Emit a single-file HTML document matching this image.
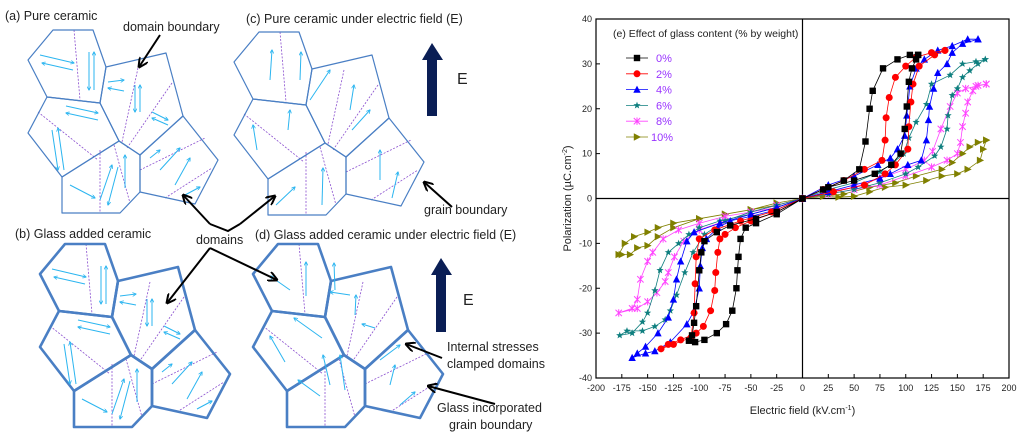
<!DOCTYPE html>
<html><head><meta charset="utf-8"><style>
body{margin:0;background:#fff;width:1024px;height:434px;overflow:hidden;font-family:"Liberation Sans",sans-serif}
svg{position:absolute;left:0;top:0}
</style></head><body>
<svg id="s" width="1024" height="434" viewBox="0 0 1024 434">
<defs>
<marker id="ah" viewBox="0 0 10 10" refX="9" refY="5" markerWidth="4" markerHeight="4" orient="auto-start-reverse"><path d="M0,0 L10,5 L0,10" fill="none" stroke="#2bb5f0" stroke-width="2"/></marker>
<marker id="bh" viewBox="0 0 10 10" refX="9" refY="5" markerWidth="5" markerHeight="5" orient="auto"><path d="M0,0 L10,5 L0,10" fill="none" stroke="#000" stroke-width="2"/></marker>
</defs>
<g id="diag"></g>
<g font-size="12.5" fill="#222">
<text x="5" y="20">(a) Pure ceramic</text>
<text x="123" y="31">domain boundary</text>
<text x="246" y="23">(c) Pure ceramic under electric field (E)</text>
<text x="424" y="214">grain boundary</text>
<text x="15" y="238">(b) Glass added ceramic</text>
<text x="196" y="244">domains</text>
<text x="255" y="239">(d) Glass added ceramic under electric field (E)</text>
<text x="447" y="351">Internal stresses</text>
<text x="447" y="368">clamped domains</text>
<text x="437" y="412">Glass incorporated</text>
<text x="449" y="429">grain boundary</text>
<text x="457" y="84" font-size="16">E</text>
<text x="463" y="305" font-size="16">E</text>
</g>
<g stroke="#000" stroke-width="2" fill="none" marker-end="url(#bh)">
<line x1="160" y1="35" x2="139" y2="67"/>
<line x1="210" y1="224" x2="183" y2="195"/>
<line x1="240" y1="224" x2="275" y2="196"/>
<line x1="452" y1="207" x2="424" y2="182"/>
<line x1="210" y1="248" x2="167" y2="303"/>
<line x1="210" y1="248" x2="277" y2="280"/>
<line x1="442" y1="358" x2="406" y2="344"/>
<line x1="495" y1="404" x2="428" y2="386"/>
</g>
<path d="M210,224 L228,231 L240,224" stroke="#000" stroke-width="2" fill="none"/>
<g fill="#0a1e55">
<polygon points="422,60 432,43 443,60 437,60 437,116 427,116 427,60"/>
<polygon points="431,275 441,258 452,275 446,275 446,332 436,332 436,275"/>
</g>
<g id="chart"></g>
</svg>
<script>
// ---------- chart data ----------
var seriesNames=["0%","2%","4%","6%","8%","10%"];
var colors=["#000000","#ff0000","#0000ff","#0f7f7f","#ff44ff","#808000"];
var xTicks=[-200,-175,-150,-125,-100,-75,-50,-25,0,25,50,75,100,125,150,175,200];
var yTicks=[-40,-30,-20,-10,0,10,20,30,40];
var s0E=[112,104,92,78,68,65,61,55,40,20,0,-25,-45,-55,-60,-62,-63,-64,-68,-74,-83,-95,-104,-110,-107,-105,-103,-100,-98,-95,-83,-70,-45,-25,0,25,50,70,86,95,99,101,103,106,110,112];
var s0P=[32,32,31,29,24,20,12.7,6.5,4,2,0,-3.5,-5.5,-6.5,-9,-13,-16,-20,-25,-28,-30,-31.5,-32,-31.7,-30.5,-27.7,-24,-16,-12,-9.5,-7.5,-6,-4.5,-3,0,2.5,4,5.5,7.5,10,15.5,20.5,26,29,31,32];
var s1E=[138,125,110,100,90,84,81,80,77,60,40,20,0,-25,-50,-65,-75,-80,-82,-84,-85,-89,-96,-103,-118,-130,-137,-125,-108,-105,-104,-103,-100,-85,-60,-30,0,30,60,80,90,102,103,105,107,113,128,138];
var s1P=[33,32.5,31.5,29.5,27,22.5,18,13,8.5,6.5,4,2,0,-3,-5,-6.5,-8,-9,-12,-16.5,-20.5,-25,-28.5,-30,-31.5,-32.5,-33.5,-32.5,-31,-25.5,-19,-13,-9,-7,-5,-3,0,1.5,3,5.5,7.5,11,16,21.5,25.5,29.5,32,33];
var s2E=[170,160,145,131,118,110,104,101,99,92,85,73,50,25,0,-25,-50,-70,-82,-93,-97,-99,-100,-105,-112,-128,-143,-152,-165,-160,-152,-140,-130,-125,-122,-118,-112,-105,-80,-50,-25,0,25,50,75,85,102,115,120,122,123,127,131,140,145,155,170];
var s2P=[35.5,35.5,34,33,31,29,25,18.5,14,11,9,7.5,5,3,0,-2.5,-4,-5,-6.5,-9,-11,-15,-20,-25,-28,-32,-34,-34.5,-35.5,-34.5,-33,-30,-26.5,-22.5,-18,-14,-9.5,-7.5,-5.5,-3.5,-2,0,1.5,3,4.5,5.5,7.5,8.5,13,17.5,20.5,24.5,28,30,32.5,34.5,35.5];
var s3E=[177,168,155,143,125,120,110,103,98,88,75,50,25,0,-25,-50,-80,-100,-110,-120,-130,-138,-143,-150,-155,-165,-177,-170,-155,-143,-133,-128,-122,-114,-106,-95,-75,-50,-25,0,25,50,75,100,112,128,134,140,141,145,150,155,162,170,177];
var s3P=[31,30.5,30,27.5,25.5,21,17,13.5,10,8,6,3.5,2,0,-2,-3.5,-5,-6.5,-8,-10,-12,-16,-20.5,-25.5,-27.5,-30,-30.5,-29.5,-29.5,-28.5,-27,-25,-21.5,-16.5,-12,-8,-5,-3,-1.5,0,1,2,3.5,5.5,7,9.5,11.5,15.5,18.5,23,24.5,27,28.5,30,31];
var s4E=[178,168,158,150,143,134,126,118,100,75,50,25,0,-25,-50,-75,-100,-120,-135,-145,-150,-157,-160,-165,-178,-160,-150,-141,-133,-130,-124,-115,-100,-75,-50,-25,0,25,50,75,100,125,140,150,153,155,158,160,165,170,178];
var s4P=[25.5,25,24.5,23.5,20.5,15.5,10.5,8.5,6.5,4.5,2.5,1.5,0,-2,-3,-4,-5.5,-7,-9,-12,-14,-18,-22.5,-24.5,-25.5,-24.5,-23,-21,-18.5,-16.5,-13,-9.5,-7,-5,-3,-1.5,0,1,2,3,5,7,8.5,10,12.5,16,19,21.5,24,25.2,25.5];
var s5E=[178,170,162,155,145,135,110,90,65,40,20,0,-25,-50,-75,-100,-125,-140,-150,-163,-172,-178,-175,-167,-160,-150,-140,-125,-100,-75,-50,-25,0,20,35,50,65,80,100,120,135,150,160,172,175,178];
var s5P=[13,12.5,11.5,10,8,6.5,5,3.5,2.5,1,0.5,0,-1.5,-2.5,-3.5,-4.5,-5.5,-6.5,-7.5,-8.5,-10,-12.5,-12.5,-12.5,-11,-10.5,-8.5,-6.5,-4.5,-3.5,-2.5,-1,0,0.5,0.3,0.5,1.5,2.5,3,4,5,5.5,6.5,8.5,11,13];
var allE=[s0E,s1E,s2E,s3E,s4E,s5E], allP=[s0P,s1P,s2P,s3P,s4P,s5P];

var NS="http://www.w3.org/2000/svg";
function mk(tag,attrs,parent){var e=document.createElementNS(NS,tag);for(var k in attrs)e.setAttribute(k,attrs[k]);parent.appendChild(e);return e;}
var X0=596,X1=1009,Y0=19,Y1=378;
function sx(v){return X0+(v+200)/400*(X1-X0);}
function sy(v){return Y1-(v+40)/80*(Y1-Y0);}
var C=document.getElementById('chart');
var frame=mk('rect',{x:X0,y:Y0,width:X1-X0,height:Y1-Y0,fill:'none',stroke:'#000','stroke-width':1.2},C);


var zx=mk('line',{x1:X0,x2:X1,y1:sy(0),y2:sy(0),stroke:'#000','stroke-width':1.2},C);


var zy=mk('line',{x1:sx(0),x2:sx(0),y1:Y0,y2:Y1,stroke:'#000','stroke-width':1.2},C);


xTicks.forEach(function(t){
  mk('line',{x1:sx(t),x2:sx(t),y1:Y1,y2:Y1-4,stroke:'#000'},C);
  var tx=mk('text',{x:sx(t),y:Y1+13,'font-size':9,'text-anchor':'middle',fill:'#222'},C);
  tx.textContent=t;
  
  
});
yTicks.forEach(function(t){
  mk('line',{x1:X0,x2:X0+4,y1:sy(t),y2:sy(t),stroke:'#000'},C);
  var tx=mk('text',{x:X0-4,y:sy(t)+3,'font-size':9,'text-anchor':'end',fill:'#222'},C);
  tx.textContent=t;
  
  
});
var xt=mk('text',{x:sx(0),y:414,'font-size':11,'text-anchor':'middle',fill:'#222'},C);
xt.innerHTML='Electric field (kV.cm<tspan dy="-4" font-size="7">-1</tspan><tspan dy="4">)</tspan>';


var yt=mk('text',{x:0,y:0,'font-size':11,'text-anchor':'middle',fill:'#222',transform:'translate(571,'+sy(0)+') rotate(-90)'},C);
yt.innerHTML='Polarization (\u00b5C.cm<tspan dy="-4" font-size="7">-2</tspan><tspan dy="4">)</tspan>';



function marker(i,x,y,g){
  var c=colors[i],r=3.2,e;
  if(i==0)e=mk('rect',{x:x-r,y:y-r,width:2*r,height:2*r,fill:c},g);
  else if(i==1)e=mk('circle',{cx:x,cy:y,r:r+0.3,fill:c},g);
  else if(i==2)e=mk('polygon',{points:(x)+','+(y-r-0.8)+' '+(x+r+0.5)+','+(y+r)+' '+(x-r-0.5)+','+(y+r),fill:c},g);
  else if(i==3){var p=[];for(var k=0;k<10;k++){var a=-Math.PI/2+k*Math.PI/5,rr=k%2?1.6:3.8;p.push((x+rr*Math.cos(a)).toFixed(1)+','+(y+rr*Math.sin(a)).toFixed(1));}e=mk('polygon',{points:p.join(' '),fill:c},g);}
  else if(i==4)e=mk('path',{d:'M'+(x-r)+','+(y-r)+'L'+(x+r)+','+(y+r)+'M'+(x+r)+','+(y-r)+'L'+(x-r)+','+(y+r)+'M'+x+','+(y-r-0.5)+'L'+x+','+(y+r+0.5),stroke:c,'stroke-width':1,fill:'none'},g);
  else e=mk('polygon',{points:(x-r)+','+(y-r-0.5)+' '+(x+r+0.8)+','+y+' '+(x-r)+','+(y+r+0.5),fill:c},g);
  return e;
}
for(var i=5;i>=0;i--){
  var g=mk('g',{},C);
  
  
  var d='';
  for(var j=0;j<allE[i].length;j++)d+=(j?'L':'M')+sx(allE[i][j]).toFixed(1)+','+sy(allP[i][j]).toFixed(1);
  var ln=mk('path',{d:d,fill:'none',stroke:colors[i],'stroke-width':0.8},g);
  
  
  for(var j=0;j<allE[i].length;j++){
    var m=marker(i,sx(allE[i][j]),sy(allP[i][j]),g);
    
    
  }
}
// legend
var L=mk('g',{},C);


var lt=mk('text',{x:613,y:37,'font-size':10.5,fill:'#222'},L);
lt.textContent='(e) Effect of glass content (% by weight)';


seriesNames.forEach(function(n,i){
  var y=58+i*15.8;
  var e=mk('g',{},L);
  
  
  mk('line',{x1:626,x2:648,y1:y,y2:y,stroke:colors[i],'stroke-width':0.8},e);
  marker(i,637,y,e);
  var t=mk('text',{x:i==5?651:656,y:y+4,'font-size':11,fill:'#9933ff'},e);
  t.textContent=n;
});

// ---------- diagrams ----------
var D=document.getElementById('diag');
var grains=[
 [[28,60],[53,30],[93,30],[106,67],[100,103],[47,97]],
 [[106,67],[166,53],[183,116],[140,155],[119,141],[100,103]],
 [[47,97],[100,103],[119,141],[62,177],[28,133]],
 [[62,177],[119,141],[140,155],[140,192],[120,213],[62,213]],
 [[140,155],[183,116],[218,160],[195,204],[140,192]]
];
var dbounds=[[[74,30],[80,100]],[[138,68],[122,142]],[[172,83],[127,148]],[[38,112],[98,160]],[[100,150],[100,213]],[[114,145],[130,203]],[[140,170],[205,138]],[[165,198],[212,168]]];
var arrA=[[[40,55],[74,63]],[[73,70],[42,63]],[[89,52],[89,90]],[[94,90],[94,52]],[[108,82],[124,80]],[[124,91],[108,88]],[[135,85],[135,112]],[[140,112],[140,85]],[[66,106],[98,113]],[[98,120],[66,113]],[[52,130],[58,170]],[[64,170],[58,128]],[[152,112],[168,120]],[[168,125],[152,118]],[[150,158],[160,150]],[[70,185],[95,198]],[[100,200],[112,165]],[[118,167],[108,205]],[[125,188],[125,155]],[[160,170],[180,148]],[[175,185],[190,158]],[[185,195],[200,187]]];
var arrC=[[[270,80],[272,50]],[[300,80],[301,52]],[[310,100],[330,70]],[[350,110],[354,85]],[[288,130],[290,110]],[[257,150],[253,125]],[[352,130],[370,110]],[[276,205],[295,187]],[[322,205],[323,168]],[[380,180],[380,150]],[[392,198],[398,172]]];
var arrD=[[[290,290],[270,276]],[[306,296],[306,262]],[[335,290],[334,263]],[[350,295],[330,292]],[[355,315],[356,295]],[[322,338],[294,318]],[[375,328],[362,324]],[[285,362],[270,336]],[[320,396],[298,380]],[[330,385],[323,355]],[[345,390],[340,355]],[[380,360],[400,345]],[[390,385],[395,365]],[[400,405],[415,392]]];
function panel(dx,dy,thick,arrows,double,name){
  var g=mk('g',{transform:'translate('+dx+','+dy+')'},D);
  
  
  dbounds.forEach(function(b){mk('line',{x1:b[0][0],y1:b[0][1],x2:b[1][0],y2:b[1][1],stroke:'#8a4fcf','stroke-width':0.8,'stroke-dasharray':'2,1.5'},g);});
  grains.forEach(function(p){mk('polygon',{points:p.map(function(q){return q.join(',');}).join(' '),fill:'none',stroke:'#4a7fc4','stroke-width':thick,'stroke-linejoin':'round'},g);});
  arrows.forEach(function(a){mk('line',{x1:a[0][0]-(double?0:dx),y1:a[0][1]-(double?0:dy),x2:a[1][0]-(double?0:dx),y2:a[1][1]-(double?0:dy),stroke:'#2bb5f0','stroke-width':1,'marker-end':'url(#ah)'},g);});
}
panel(0,0,1.2,arrA,true,'panel-a-pure-ceramic');
panel(206,2,1.2,arrC,false,'panel-c-pure-field');
panel(12,214,2.6,arrA,true,'panel-b-glass-ceramic');
panel(225,214,2.6,arrD,false,'panel-d-glass-field');
</script>
</body></html>
